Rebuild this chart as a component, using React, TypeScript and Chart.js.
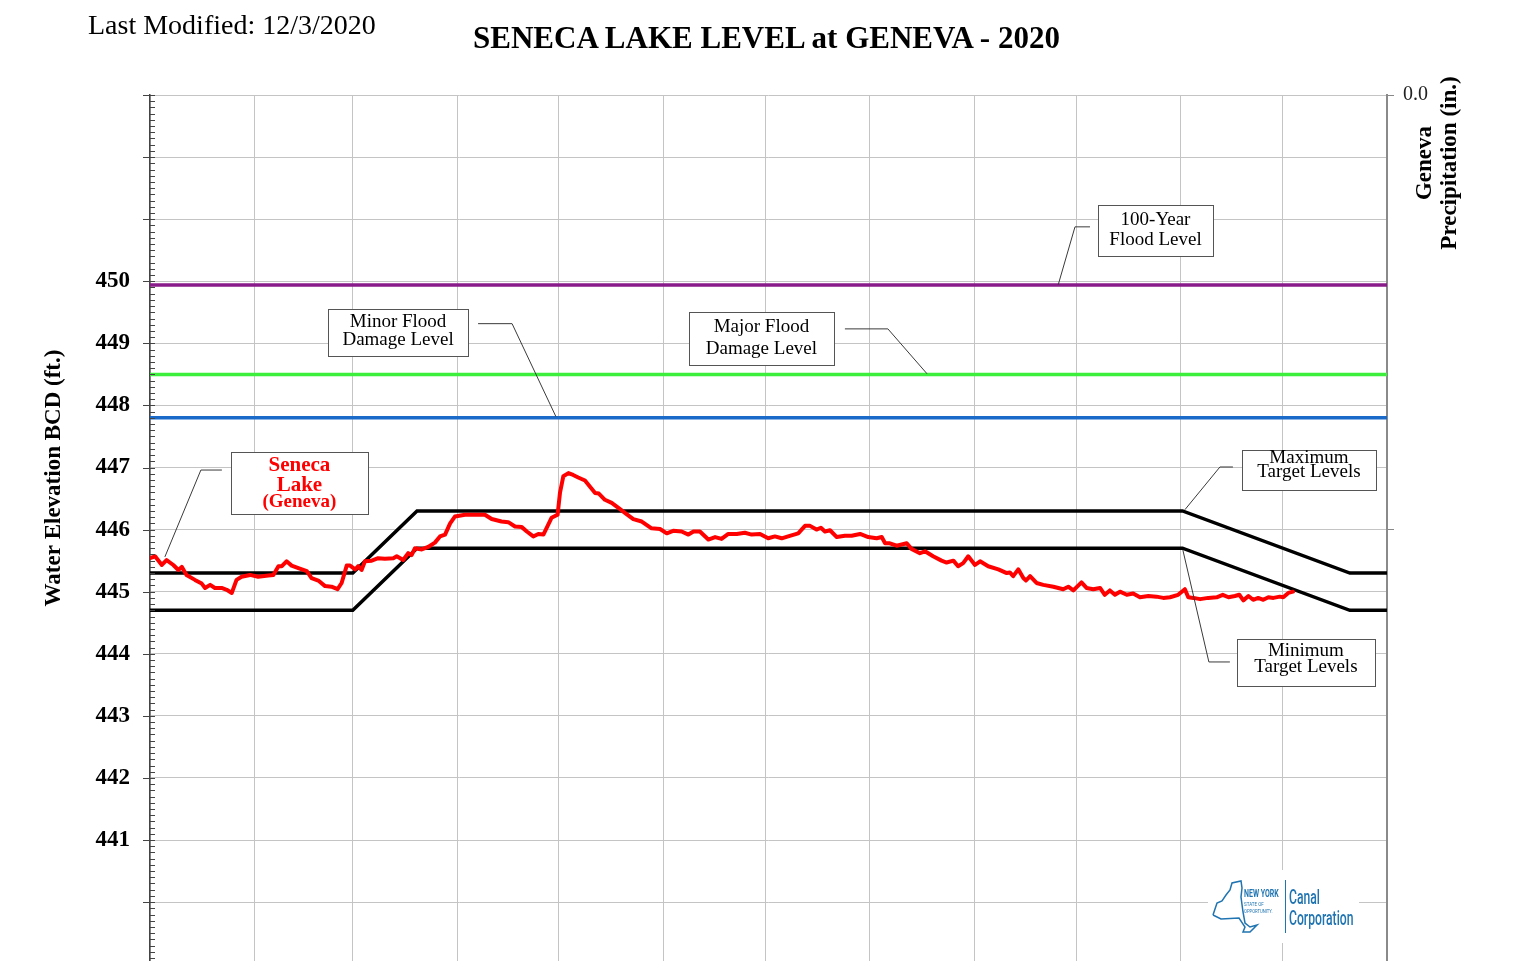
import React, { useEffect, useRef } from "react";
import { Chart, registerables } from "chart.js";

Chart.register(...registerables);

// ---------------- data ----------------
const monthStartDays = [0, 31, 60, 91, 121, 152, 182, 213, 244, 274, 305, 335, 366];
const elevationTicks = [439, 440, 441, 442, 443, 444, 445, 446, 447, 448, 449, 450, 451, 452, 453];
const labelledElevations = [441, 442, 443, 444, 445, 446, 447, 448, 449, 450];
const precipTicks = [0, 1];
const precipTickLabels = ["0.0", ""];

const lakeDays = [
  0, 1.5, 3.5, 4.9, 6.9, 8.4, 9.4, 10.8, 13.3, 15.3, 16.3, 17.8, 19.2, 21.2, 22.7, 24.2, 25.6, 27.1, 29.6, 32.0,
  35.0, 36.5, 38.0, 39.0, 40.4, 41.9, 43.9, 46.4, 47.8, 49.8, 51.8, 53.7, 55.5, 56.7, 58.2, 59.2, 60.7, 61.6, 62.6, 63.6,
  65.6, 67.5, 69.5, 72.0, 73.0, 74.9, 76.4, 77.4, 78.4, 80.4, 82.3, 84.3, 85.8, 87.3, 88.8, 90.2, 93.2, 95.7, 99.1, 101.1,
  104.0, 106.0, 108.0, 110.0, 111.5, 113.4, 114.9, 116.4, 118.8, 120.6, 121.3, 122.3, 123.8, 125.2, 126.7, 128.7, 130.2, 131.7, 132.8, 134.6,
  136.6, 138.6, 141.0, 143.0, 145.5, 148.4, 150.9, 152.9, 154.8, 157.3, 159.3, 160.8, 162.7, 165.2, 167.2, 169.1, 171.1, 173.6, 176.0, 178.0,
  180.5, 182.9, 184.9, 186.9, 189.3, 191.8, 193.8, 195.3, 197.2, 198.5, 199.7, 201.2, 203.2, 205.6, 207.6, 210.1, 212.5, 215.0, 216.5, 217.5,
  218.9, 220.9, 223.9, 225.3, 227.8, 229.3, 231.7, 234.2, 235.7, 237.7, 239.1, 240.6, 242.1, 244.1, 245.6, 248.0, 251.0, 253.5, 254.4, 255.4,
  256.9, 258.4, 259.2, 260.4, 262.3, 264.3, 267.3, 270.2, 271.7, 273.2, 275.6, 277.1, 279.1, 281.1, 282.5, 284.0, 285.5, 287.0, 289.0, 290.9,
  292.9, 295.4, 297.8, 299.8, 301.8, 304.2, 306.2, 307.2, 308.7, 310.7, 313.1, 315.6, 317.4, 319.1, 321.0, 322.3, 323.5, 325.0, 326.4, 327.9,
  329.4, 330.9, 332.4, 334.3, 335.3, 336.8, 338.2,
];
const lakeLevels = [
  445.54, 445.57, 445.43, 445.51, 445.43, 445.35, 445.40, 445.27, 445.19, 445.13, 445.06, 445.11, 445.06, 445.06, 445.03, 444.98, 445.19, 445.24, 445.27, 445.24,
  445.26, 445.27, 445.41, 445.41, 445.49, 445.42, 445.38, 445.33, 445.22, 445.18, 445.09, 445.08, 445.04, 445.14, 445.42, 445.42, 445.36, 445.41, 445.35, 445.49,
  445.50, 445.54, 445.53, 445.54, 445.57, 445.51, 445.62, 445.59, 445.70, 445.68, 445.72, 445.79, 445.89, 445.92, 446.10, 446.21, 446.24, 446.24, 446.24, 446.17,
  446.13, 446.12, 446.05, 446.04, 445.97, 445.89, 445.93, 445.92, 446.19, 446.24, 446.59, 446.86, 446.91, 446.88, 446.84, 446.79, 446.69, 446.59, 446.58, 446.48,
  446.43, 446.35, 446.25, 446.17, 446.13, 446.02, 446.01, 445.94, 445.98, 445.97, 445.92, 445.97, 445.97, 445.84, 445.88, 445.85, 445.93, 445.93, 445.95, 445.92,
  445.93, 445.86, 445.89, 445.86, 445.90, 445.94, 446.06, 446.06, 446.00, 446.03, 445.97, 445.99, 445.88, 445.90, 445.90, 445.93, 445.88, 445.86, 445.88, 445.78,
  445.78, 445.74, 445.78, 445.69, 445.62, 445.65, 445.57, 445.50, 445.47, 445.50, 445.41, 445.46, 445.57, 445.43, 445.49, 445.41, 445.36, 445.30, 445.31, 445.25,
  445.36, 445.22, 445.18, 445.25, 445.14, 445.11, 445.08, 445.04, 445.08, 445.02, 445.15, 445.06, 445.04, 445.06, 444.95, 445.02, 444.95, 445.00, 444.95, 444.97,
  444.91, 444.93, 444.92, 444.90, 444.91, 444.95, 445.04, 444.91, 444.90, 444.88, 444.90, 444.91, 444.95, 444.91, 444.93, 444.95, 444.86, 444.93, 444.87, 444.90,
  444.87, 444.91, 444.90, 444.92, 444.91, 444.98, 445.00,
];

const targetDays = [0, 60, 79, 305.5, 355, 366];
const maxTargetLevels = [445.3, 445.3, 446.3, 446.3, 445.3, 445.3];
const minTargetLevels = [444.7, 444.7, 445.7, 445.7, 444.7, 444.7];

const floodDays = [0, 366];
const hundredYearFloodLevel = 449.94;
const majorFloodLevel = 448.5;
const minorFloodLevel = 447.8;

const calloutLines: string[][] = [
  ["Seneca", "Lake", "(Geneva)"],
  ["Minor Flood", "Damage Level"],
  ["Major Flood", "Damage Level"],
  ["100-Year", "Flood Level"],
  ["Maximum", "Target Levels"],
  ["Minimum", "Target Levels"],
];
const calloutBoxDays = [44.2, 73.4, 180.9, 297.5, 342.9, 342.0];
const calloutBoxLevels = [446.75, 449.18, 449.08, 450.82, 446.96, 443.86];
const calloutTargetDays = [4.4, 120.1, 229.9, 268.7, 306.2, 305.6];
const calloutTargetLevels = [445.56, 447.82, 448.51, 449.94, 446.32, 445.67];

// ---------------- styles ----------------
const SERIF = '"Liberation Serif", "Times New Roman", serif';
const GRID = "#c4c4c4";
const CANVAS_W = 1536;
const CANVAS_H = 998;

const calloutStyles = [
  { w: 137, h: 62, gap: 9, elbow: 21, dy: -13, baselines: [-11.8, 7.5, 23.5], fonts: ["bold 21px", "bold 21px", "bold 19px"], color: "#ff0000" },
  { w: 140, h: 47, gap: 10, elbow: 34, dy: -8.5, baselines: [-5.5, 12.5], fonts: ["19px", "19px"], color: "#000" },
  { w: 145, h: 53, gap: 11, elbow: 43, dy: -9.5, baselines: [-6.5, 15.5], fonts: ["19px", "19px"], color: "#000" },
  { w: 115, h: 51, gap: 8, elbow: 15, dy: -3.5, baselines: [-5.5, 14.5], fonts: ["19px", "19px"], color: "#000" },
  { w: 134, h: 40, gap: 9, elbow: 13, dy: -3, baselines: [-6.7, 6.7], fonts: ["19px", "19px"], color: "#000" },
  { w: 138, h: 47, gap: 7, elbow: 21, dy: -0.5, baselines: [-6.5, 9.2], fonts: ["19px", "19px"], color: "#000" },
];

const pts = (xs: number[], ys: number[]) => xs.map((x, i) => ({ x, y: ys[i] }));
const flat = (v: number) => floodDays.map((x) => ({ x, y: v }));

const decorPlugin = {
  id: "decor",
  afterDatasetsDraw(chart: any) {
    const { ctx, scales } = chart;
    const xs = scales.x;
    const ys = scales.y;
    ctx.save();
    calloutLines.forEach((lines, i) => {
      const st = calloutStyles[i];
      const cx = xs.getPixelForValue(calloutBoxDays[i]);
      const cy = ys.getPixelForValue(calloutBoxLevels[i]);
      const tx = xs.getPixelForValue(calloutTargetDays[i]);
      const ty = ys.getPixelForValue(calloutTargetLevels[i]);
      const leftSide = tx < cx;
      const sx = leftSide ? cx - st.w / 2 - st.gap : cx + st.w / 2 + st.gap;
      const ex = leftSide ? sx - st.elbow : sx + st.elbow;
      const ly = cy + st.dy;
      ctx.strokeStyle = "#3a3a3a";
      ctx.lineWidth = 1;
      ctx.beginPath();
      ctx.moveTo(sx, ly);
      ctx.lineTo(ex, ly);
      ctx.lineTo(tx, ty);
      ctx.stroke();
      const bx = Math.round(cx - st.w / 2) + 0.5;
      const by = Math.round(cy - st.h / 2) + 0.5;
      ctx.fillStyle = "#ffffff";
      ctx.fillRect(bx, by, st.w, st.h);
      ctx.strokeStyle = "#555";
      ctx.strokeRect(bx, by, st.w, st.h);
      ctx.fillStyle = st.color;
      ctx.textAlign = "center";
      ctx.textBaseline = "alphabetic";
      lines.forEach((t, j) => {
        ctx.font = `${st.fonts[j]} ${SERIF}`;
        ctx.fillText(t, cx, cy + st.baselines[j]);
      });
    });
    ctx.restore();
  },
  afterDraw(chart: any) {
    const { ctx, chartArea, scales } = chart;
    const ys = scales.y;
    ctx.save();
    // left axis minor / major ticks
    ctx.strokeStyle = "#444";
    ctx.lineWidth = 1;
    const lo = ys.min;
    const steps = Math.round((ys.max - ys.min) * 10);
    for (let i = 0; i <= steps; i++) {
      const v = lo + i / 10;
      const py = Math.round(ys.getPixelForValue(v)) + 0.5;
      const major = i % 10 === 0;
      ctx.beginPath();
      ctx.moveTo(major ? chartArea.left - 7 : chartArea.left, py);
      ctx.lineTo(chartArea.left + 5, py);
      ctx.stroke();
    }
    // axis titles
    ctx.fillStyle = "#000";
    ctx.textAlign = "center";
    ctx.textBaseline = "alphabetic";
    const rot = (text: string, bx: number, cy: number, font: string) => {
      ctx.save();
      ctx.translate(bx, cy);
      ctx.rotate(-Math.PI / 2);
      ctx.font = font;
      ctx.fillText(text, 0, 0);
      ctx.restore();
    };
    rot("Water Elevation BCD (ft.)", 60, 478, `bold 23px ${SERIF}`);
    rot("Geneva", 1431, 163, `bold 23px ${SERIF}`);
    rot("Precipitation (in.)", 1456, 163, `bold 23px ${SERIF}`);

    // logo
    const L = 1208, T = 870;
    ctx.fillStyle = "#fff";
    ctx.fillRect(L, T, 151, 73);
    const blue = "#1f74b1";
    ctx.strokeStyle = blue;
    ctx.lineWidth = 1.5;
    const ny = [[1213, 915], [1217, 903], [1222, 901], [1226, 895], [1230, 890], [1232, 883], [1241, 881], [1242, 888], [1241, 897], [1243, 912], [1245, 923], [1250, 927], [1257, 925], [1250, 932], [1243, 932], [1245, 927], [1239, 918], [1221, 919], [1213, 915]];
    ctx.beginPath();
    ny.forEach(([a, b], k) => (k ? ctx.lineTo(a, b) : ctx.moveTo(a, b)));
    ctx.stroke();
    ctx.fillStyle = blue;
    ctx.textAlign = "left";
    const narrow = (text: string, x: number, y: number, font: string, sx: number) => {
      ctx.save();
      ctx.translate(x, y);
      ctx.scale(sx, 1);
      ctx.font = font;
      ctx.fillText(text, 0, 0);
      ctx.restore();
    };
    narrow("NEW YORK", 1244, 897, "bold 10px Roboto", 0.7);
    narrow("STATE OF", 1244, 906, "6px Roboto", 0.75);
    narrow("OPPORTUNITY.", 1244, 913, "6px Roboto", 0.7);
    ctx.lineWidth = 1;
    ctx.beginPath();
    ctx.moveTo(1285.5, 880);
    ctx.lineTo(1285.5, 933);
    ctx.stroke();
    narrow("Canal", 1289, 904, "500 21px Roboto", 0.58);
    narrow("Corporation", 1289, 925, "500 21px Roboto", 0.58);
    ctx.restore();
  },
};

export default function App() {
  const ref = useRef<HTMLCanvasElement | null>(null);
  useEffect(() => {
    const prevMargin = document.body.style.margin;
    document.body.style.margin = "0";
    const canvas = ref.current!;
    const chart = new Chart(canvas, {
      type: "line",
      data: {
        datasets: [
          { label: "Seneca Lake (Geneva)", data: pts(lakeDays, lakeLevels), borderColor: "#ff0000", borderWidth: 4, pointRadius: 0, tension: 0, order: 0, borderJoinStyle: "round", borderCapStyle: "round" } as any,
          { label: "Maximum Target Levels", data: pts(targetDays, maxTargetLevels), borderColor: "#000", borderWidth: 3.5, pointRadius: 0, tension: 0, order: 1 },
          { label: "Minimum Target Levels", data: pts(targetDays, minTargetLevels), borderColor: "#000", borderWidth: 3.5, pointRadius: 0, tension: 0, order: 1 },
          { label: "100-Year Flood Level", data: flat(hundredYearFloodLevel), borderColor: "#8a1b8a", borderWidth: 3.5, pointRadius: 0, order: 2 },
          { label: "Major Flood Damage Level", data: flat(majorFloodLevel), borderColor: "#3cef3c", borderWidth: 3.5, pointRadius: 0, order: 2 },
          { label: "Minor Flood Damage Level", data: flat(minorFloodLevel), borderColor: "#1a6bc9", borderWidth: 3.5, pointRadius: 0, order: 2 },
        ],
      },
      options: {
        animation: false,
        responsive: false,
        maintainAspectRatio: false,
        events: [],
        layout: { padding: { top: 95, bottom: 0, left: 0, right: 0 } },
        plugins: { legend: { display: false }, tooltip: { enabled: false }, title: { display: false } },
        scales: {
          x: {
            type: "linear",
            min: 0,
            max: 366,
            afterBuildTicks: (s: any) => { s.ticks = monthStartDays.map((v) => ({ value: v })); },
            ticks: { display: false },
            grid: { color: GRID, lineWidth: 1, drawTicks: false },
            border: { display: false },
            afterFit: (s: any) => { s.height = 0; },
          },
          y: {
            type: "linear",
            position: "left",
            min: 439,
            max: 453,
            afterBuildTicks: (s: any) => { s.ticks = elevationTicks.map((v) => ({ value: v })); },
            ticks: {
              autoSkip: false,
              padding: 20,
              color: "#000",
              font: { family: SERIF, size: 23, weight: "bold" },
              callback: (v: any) => (labelledElevations.includes(Number(v)) ? String(v) : ""),
            },
            grid: { color: GRID, lineWidth: 1, drawTicks: false },
            border: { color: "#444", width: 1.5 },
            afterFit: (s: any) => { s.width = 150; },
          },
          y2: {
            type: "linear",
            position: "right",
            min: 0,
            max: 2,
            reverse: true,
            afterBuildTicks: (s: any) => { s.ticks = precipTicks.map((v) => ({ value: v })); },
            ticks: {
              autoSkip: false,
              padding: 9,
              color: "#222",
              font: { family: SERIF, size: 20 },
              callback: (_v: any, i: number) => precipTickLabels[i],
            },
            grid: { drawOnChartArea: false, drawTicks: true, tickLength: 7, color: "#888" },
            border: { color: "#8a8a8a", width: 2 },
            afterFit: (s: any) => { s.width = 149; },
          },
        },
      } as any,
      plugins: [decorPlugin],
    });
    return () => {
      chart.destroy();
      document.body.style.margin = prevMargin;
    };
  }, []);

  return (
    <div style={{ position: "fixed", left: 0, top: 0, width: 1536, height: 961, overflow: "hidden", background: "#fff" }}>
      <div style={{ position: "absolute", left: 0, top: 0, width: CANVAS_W, height: CANVAS_H }}>
        <canvas ref={ref} width={CANVAS_W} height={CANVAS_H} style={{ display: "block", width: CANVAS_W, height: CANVAS_H }} />
      </div>
      <div style={{ position: "absolute", left: 88, top: 10.5, font: `28px ${SERIF}`, lineHeight: "28px", color: "#000", whiteSpace: "nowrap" }}>
        Last Modified: 12/3/2020
      </div>
      <div style={{ position: "absolute", left: 0, top: 22, width: 1533, textAlign: "center", font: `bold 31px ${SERIF}`, lineHeight: "31px", color: "#000", whiteSpace: "nowrap" }}>
        SENECA LAKE LEVEL at GENEVA - 2020
      </div>
    </div>
  );
}
